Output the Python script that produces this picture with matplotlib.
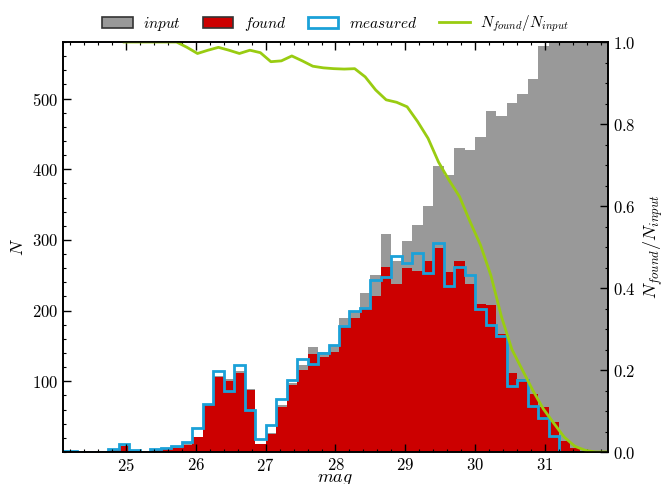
import numpy as np
import matplotlib
matplotlib.use('Agg')
import matplotlib.pyplot as plt
from matplotlib.patches import Patch
from matplotlib.lines import Line2D
from matplotlib.ticker import MultipleLocator

plt.rcParams['font.family'] = 'serif'
plt.rcParams['font.serif'] = ['cmr10', 'DejaVu Serif']
plt.rcParams['mathtext.fontset'] = 'cm'
plt.rcParams['axes.formatter.use_mathtext'] = True
plt.rcParams['axes.unicode_minus'] = False

# magnitude bins
bin_start = 24.0
bin_width = 0.15

n_input = [1, 1, 0, 0, 0, 4, 9, 3, 0, 4,
           6, 9, 13, 21, 68, 108, 103, 114, 89, 12,
           27, 67, 97, 123, 148, 142, 150, 190, 198, 225,
           250, 308, 270, 299, 321, 348, 405, 392, 430, 427,
           446, 482, 476, 494, 507, 528, 575, 610, 640, 660,
           690, 700, 720]

n_found = [0, 0, 0, 0, 0, 3, 9, 3, 0, 3,
           4, 6, 10, 21, 67, 106, 101, 112, 88, 11,
           25, 64, 95, 116, 139, 135, 142, 178, 189, 204,
           220, 262, 237, 260, 256, 270, 288, 255, 270, 238,
           210, 208, 167, 112, 103, 82, 64, 43, 15, 5,
           2, 1, 0]

n_measured = [1, 1, 0, 0, 0, 4, 12, 3, 0, 4,
              6, 9, 14, 34, 68, 114, 87, 123, 60, 18,
              38, 75, 102, 132, 125, 140, 152, 178, 200, 204,
              243, 248, 277, 267, 281, 253, 295, 235, 262, 250,
              202, 180, 164, 94, 102, 65, 48, 23, 0, 0,
              0, 0, 0]

nan = np.nan
frac_found = [nan, nan, nan, nan, nan, nan, 1.0, 1.0, 1.0, 1.0,
              1.0, 1.0, 0.987, 0.972, 0.98, 0.987, 0.98, 0.972, 0.98, 0.974,
              0.952, 0.954, 0.966, 0.954, 0.941, 0.937, 0.935, 0.934, 0.935, 0.915,
              0.883, 0.859, 0.853, 0.842, 0.806, 0.765, 0.707, 0.663, 0.623, 0.562,
              0.505, 0.43, 0.33, 0.25, 0.20, 0.15, 0.105, 0.07, 0.036, 0.014,
              0.004, 0.0, 0.0]

edges = bin_start + bin_width * np.arange(len(n_input) + 1)
centers = 0.5 * (edges[:-1] + edges[1:])

c_input = '#999999'
c_found = '#cc0000'
c_meas = '#1ba1d8'
c_frac = '#99cc11'

fig = plt.figure(figsize=(6.65, 4.84), dpi=100)
ax = fig.add_axes([0.0947, 0.0661, 0.8196, 0.8471])

ax.stairs(n_input, edges, fill=True, color=c_input, lw=0)
ax.stairs(n_found, edges, fill=True, color=c_found, lw=0)
ax.stairs(n_measured, edges, color=c_meas, lw=2)

ax2 = ax.twinx()
ax2.plot(centers, frac_found, color=c_frac, lw=2)

ax.set_xlim(24.1, 31.9)
ax.set_ylim(0, 580)
ax2.set_ylim(0, 1)

ax.xaxis.set_major_locator(MultipleLocator(1))
ax.xaxis.set_minor_locator(MultipleLocator(0.2))
ax.set_yticks([100, 200, 300, 400, 500])
ax.yaxis.set_minor_locator(MultipleLocator(20))
ax2.yaxis.set_major_locator(MultipleLocator(0.2))
ax2.yaxis.set_minor_locator(MultipleLocator(0.05))

for a in (ax, ax2):
    a.tick_params(which='both', direction='in', labelsize=12)
    a.tick_params(which='major', length=5.5, width=1)
    a.tick_params(which='minor', length=2.5, width=0.8)
    for sp in a.spines.values():
        sp.set_linewidth(1.2)
ax.tick_params(which='both', top=True, right=False)

ax.set_xlabel('$mag$', fontsize=13, labelpad=-1)
ax.set_ylabel('$N$', fontsize=13)
ax2.set_ylabel('$N_{found}/N_{input}$', fontsize=13)

handles = [
    Patch(facecolor=c_input, edgecolor='#333333', lw=1.2),
    Patch(facecolor=c_found, edgecolor='#333333', lw=1.2),
    Patch(facecolor='white', edgecolor=c_meas, lw=2),
    Line2D([], [], color=c_frac, lw=2),
]
labels = ['$input$', '$found$', '$measured$', '$N_{found}/N_{input}$']
ax.legend(handles, labels, loc='lower center', bbox_to_anchor=(0.5, 0.985),
          ncol=4, frameon=False, fontsize=11, handlelength=2.0,
          handletextpad=0.7, columnspacing=1.4)

fig.savefig('out.png', dpi=100)
